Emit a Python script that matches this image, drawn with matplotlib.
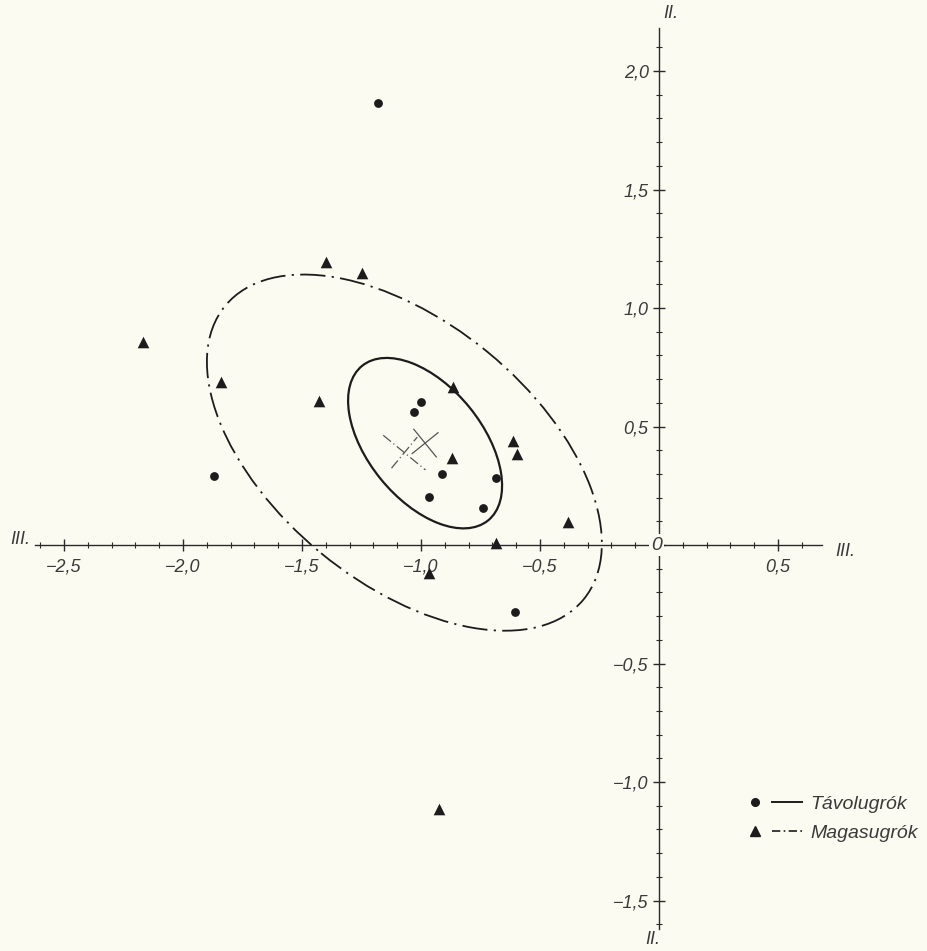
import numpy as np
import matplotlib
matplotlib.use("Agg")
import matplotlib.pyplot as plt
from matplotlib.patches import Ellipse
from matplotlib.lines import Line2D
from matplotlib.legend_handler import HandlerTuple
from matplotlib.ticker import FixedLocator, FuncFormatter

plt.rcParams['font.family'] = ['Liberation Sans', 'DejaVu Sans']
plt.rcParams['font.style'] = 'italic'

# ---- data ----
tavol_x = [-1.18, -1.87, -1.00, -1.03, -0.91, -0.685, -0.965, -0.74, -0.605]
tavol_y = [1.865, 0.29, 0.603, 0.561, 0.30, 0.283, 0.203, 0.156, -0.283]

magas_x = [-1.40, -1.25, -2.17, -1.84, -1.43, -0.866, -0.613, -0.597, -0.87,
           -0.382, -0.685, -0.966, -0.924]
magas_y = [1.194, 1.148, 0.857, 0.688, 0.608, 0.667, 0.439, 0.384, 0.367,
           0.097, 0.008, -0.118, -1.114]

# ellipse: centre x, centre y, semi-major, semi-minor, angle (deg)
tavol_ell = [-0.983, 0.43, 0.42, 0.24, -51.0]
magas_ell = [-1.07, 0.39, 0.975, 0.55, -39.5]
# cross half-lengths (major, minor)
tavol_cross = [0.075, 0.07]
magas_cross = [0.115, 0.085]

x_major = [-2.5, -2.0, -1.5, -1.0, -0.5, 0.0, 0.5]
y_major = [-1.5, -1.0, -0.5, 0.0, 0.5, 1.0, 1.5, 2.0]
labels = ["Távolugrók", "Magasugrók"]

BG = "#fcfbf1"
INK = "#1c1c1c"
TXT = "#3a3a3a"

fig = plt.figure(figsize=(9.28, 9.51), dpi=100, facecolor=BG)
ax = fig.add_axes([0, 0, 1, 1])
ax.set_facecolor(BG)
ax.set_xlim(-2.769, 1.130)
ax.set_ylim(-1.713, 2.300)

for s in ['top', 'right']:
    ax.spines[s].set_visible(False)
ax.spines['left'].set_position(('data', 0))
ax.spines['bottom'].set_position(('data', 0))
ax.spines['left'].set_bounds(-1.62, 2.18)
ax.spines['bottom'].set_bounds(-2.62, 0.685)
for s in ['left', 'bottom']:
    ax.spines[s].set_color("#2a2a2a")
    ax.spines[s].set_linewidth(1.0)

def fmt(v, pos):
    if abs(v) < 1e-9:
        return ""
    return ("%.1f" % v).replace('.', ',').replace('-', '\u2212')

ax.xaxis.set_major_locator(FixedLocator(x_major))
ax.yaxis.set_major_locator(FixedLocator(y_major))
ax.xaxis.set_minor_locator(FixedLocator(np.round(np.arange(-2.6, 0.65, 0.1), 2)))
ax.yaxis.set_minor_locator(FixedLocator(np.round(np.arange(-1.6, 2.15, 0.1), 2)))
ax.xaxis.set_major_formatter(FuncFormatter(fmt))
ax.yaxis.set_major_formatter(FuncFormatter(fmt))
ax.tick_params(which='major', direction='inout', length=9, width=1.0,
               color="#2a2a2a", labelcolor=TXT, labelsize=13)
ax.tick_params(axis='x', which='major', pad=5)
ax.tick_params(axis='y', which='major', pad=3)
ax.tick_params(which='minor', direction='inout', length=4.5, width=0.8, color="#2a2a2a")

ax.text(-0.01, 0, "0", ha='center', va='center', fontsize=14, color=TXT,
        bbox=dict(boxstyle='square,pad=0.12', fc=BG, ec='none'), zorder=5)

fig.text(20 / 928, 1 - 540 / 951, "III.", ha='center', va='center', fontsize=13, color=TXT)
fig.text(845 / 928, 1 - 551 / 951, "III.", ha='center', va='center', fontsize=13, color=TXT)
fig.text(671 / 928, 1 - 14 / 951, "II.", ha='center', va='center', fontsize=13, color=TXT)
fig.text(653 / 928, 1 - 940 / 951, "II.", ha='center', va='center', fontsize=13, color=TXT)

dashdot = (0, (14, 3.5, 1.2, 3.5))

for ell, ls, cross, lw in [(tavol_ell, '-', tavol_cross, 1.6),
                           (magas_ell, dashdot, magas_cross, 1.3)]:
    cx, cy, a, b, ang = ell
    e = Ellipse((cx, cy), 2 * a, 2 * b, angle=ang, fill=False, ec=INK,
                lw=lw, linestyle=ls, zorder=3)
    ax.add_patch(e)
    t = np.deg2rad(ang)
    u = np.array([np.cos(t), np.sin(t)])
    v = np.array([-np.sin(t), np.cos(t)])
    cls = '-' if ls == '-' else (0, (8, 2.5, 1, 2.5))
    for vec, L in [(u, cross[0]), (v, cross[1])]:
        ax.plot([cx - L * vec[0], cx + L * vec[0]], [cy - L * vec[1], cy + L * vec[1]],
                color="#555555", lw=0.9, linestyle=cls, zorder=3)

ax.scatter(tavol_x, tavol_y, marker='o', s=40, color=INK, zorder=4, linewidths=0)
ax.scatter(magas_x, magas_y, marker='^', s=70, color=INK, zorder=4, linewidths=0)

h1 = (Line2D([], [], marker='o', color=INK, ls='none', markersize=5.5),
      Line2D([], [], color=INK, lw=1.4, ls='-'))
h2 = (Line2D([], [], marker='^', color=INK, ls='none', markersize=7),
      Line2D([], [], color=INK, lw=1.2, ls=(0, (5, 2, 1, 2))))
leg = fig.legend([h1, h2], labels, loc='upper left',
                 bbox_to_anchor=(740 / 928, 1 - 795 / 951),
                 handler_map={tuple: HandlerTuple(ndivide=2, pad=0.1)},
                 frameon=False, fontsize=14, handlelength=3.2, handletextpad=0.4,
                 labelspacing=0.6, borderaxespad=0, borderpad=0)
for t in leg.get_texts():
    t.set_color(TXT)

fig.savefig("out.png", dpi=100, facecolor=BG)
